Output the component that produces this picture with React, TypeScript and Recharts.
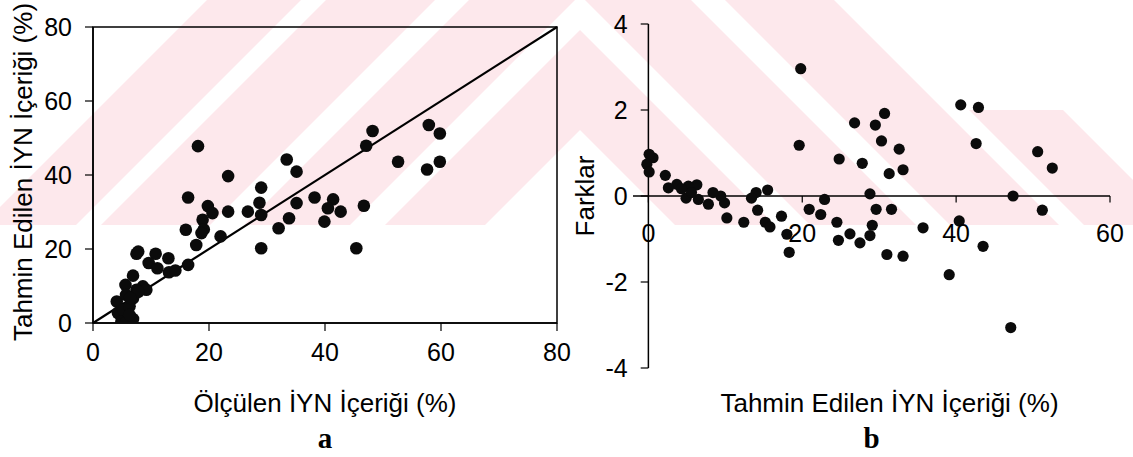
import React from 'react';
import { ScatterChart, Scatter, XAxis, YAxis, ReferenceLine, ReferenceArea, Label } from 'recharts';

// ---------- Chart a: measured vs predicted ----------
const measuredA = [18.1, 48.2, 47.1, 57.9, 59.8, 59.8, 57.6, 52.6, 33.4, 35.1, 23.3, 29.0, 28.7, 29.0, 26.7, 23.3, 16.4, 19.8, 20.6, 18.9, 19.1, 18.7, 17.8, 16.0, 22.0, 35.1, 33.8, 32.0, 38.2, 41.4, 40.5, 42.7, 39.9, 46.7, 29.0, 45.4, 7.5, 7.8, 10.8, 13.0, 9.6, 11.1, 13.1, 14.2, 16.4, 6.9, 5.6, 8.6, 7.5, 4.1, 5.7, 6.9, 4.3, 5.2, 6.3, 4.9, 5.7, 6.9, 6.3, 9.2, 7.8, 6.4];
const predictedA = [47.8, 51.9, 47.9, 53.5, 51.2, 43.6, 41.5, 43.6, 44.2, 40.9, 39.7, 36.6, 32.5, 29.2, 30.1, 30.1, 33.9, 31.6, 29.7, 27.9, 25.3, 24.3, 21.1, 25.2, 23.4, 32.4, 28.3, 25.6, 33.9, 33.4, 31.0, 30.1, 27.4, 31.7, 20.2, 20.2, 18.7, 19.3, 18.7, 17.5, 16.2, 14.8, 13.7, 14.2, 15.7, 12.8, 10.3, 9.9, 9.0, 5.8, 7.6, 6.7, 2.7, 3.6, 4.5, 0.4, 0.2, 1.1, 2.2, 9.0, 8.4, 6.8];
const ticksA = [0, 20, 40, 60, 80];
const lineA = [0, 80];

// ---------- Chart b: predicted vs differences ----------
const predictedB = [19.8, 19.6, 40.6, 42.9, 42.6, 50.6, 52.5, 47.4, 51.2, 47.1, 39.1, 43.5, 40.4, 35.7, 33.1, 31.0, 30.7, 29.5, 26.8, 30.3, 32.6, 33.1, 31.3, 27.8, 24.8, 28.8, 29.6, 31.6, 29.1, 28.8, 27.5, 26.2, 24.7, 24.5, 22.9, 22.4, 20.9, 18.0, 18.3, 17.3, 15.5, 14.0, 13.4, 14.2, 15.2, 15.8, 12.4, 10.2, 9.9, 9.4, 8.4, 7.8, 6.5, 6.3, 5.2, 4.9, 3.7, 2.6, 2.2, 0.6, 0.1, -0.2, 0.1, 5.6, 4.3];
const diffB = [2.96, 1.18, 2.12, 2.06, 1.22, 1.03, 0.65, 0.0, -0.33, -3.06, -1.83, -1.17, -0.58, -0.74, -1.40, -1.36, 1.92, 1.65, 1.70, 1.28, 1.09, 0.61, 0.52, 0.76, 0.86, 0.05, -0.31, -0.31, -0.68, -0.92, -1.09, -0.88, -1.03, -0.61, -0.08, -0.43, -0.31, -0.89, -1.31, -0.47, 0.14, 0.08, -0.05, -0.33, -0.61, -0.72, -0.61, -0.51, -0.16, 0.0, 0.08, -0.19, -0.08, 0.26, 0.23, -0.05, 0.27, 0.19, 0.48, 0.89, 0.97, 0.74, 0.56, 0.08, 0.17];
const xTicksB = [0, 20, 40, 60];
const yTicksB = [4, 2, 0, -2, -4];
const xDomainB = [-2, 60];
const yDomainB = [-4, 4];

const dataA = measuredA.map((x, i) => ({ x, y: predictedA[i] }));
const dataB = predictedB.map((x, i) => ({ x, y: diffB[i] }));

const FONT = '"Liberation Sans", Arial, Helvetica, sans-serif';
const SERIF = '"Liberation Serif", "Times New Roman", serif';
const FS = 25;
const TFS = 26;

// ---------- background watermark (decorative) ----------
const WM_CENTER = 580;
const WM_BOTTOM = 225;
const chevrons = [
  { o: -30, i: -130, rightFrom: 0 },
  { o: 111, i: 5, rightFrom: 0 },
  { o: 254, i: 145, rightFrom: 0 },
  { o: 373, i: 279, rightFrom: 110 },
];

function armPoly(c: number, o: number, i: number, side: number, y0: number, y1: number) {
  const pts: [number, number][] = [];
  const hw = (base: number, y: number) => Math.max(0, base + y);
  pts.push([c + side * hw(o, y0), y0]);
  pts.push([c + side * hw(o, y1), y1]);
  pts.push([c + side * hw(i, y1), y1]);
  const innerApexY = -i;
  if (innerApexY > y0 && innerApexY < y1) pts.push([c, innerApexY]);
  pts.push([c + side * hw(i, y0), y0]);
  const outerApexY = -o;
  if (outerApexY > y0 && outerApexY < y1) pts.splice(1, 0, [c, outerApexY]);
  return pts.map((p) => p.join(',')).join(' ');
}

function Watermark() {
  const polys: string[] = [];
  chevrons.forEach((ch) => {
    polys.push(armPoly(WM_CENTER, ch.o, ch.i, -1, 0, WM_BOTTOM));
    polys.push(armPoly(WM_CENTER, ch.o, ch.i, 1, ch.rightFrom, WM_BOTTOM));
  });
  return (
    <svg width={1133} height={457} style={{ position: 'absolute', left: 0, top: 0 }}>
      {polys.map((p, k) => (
        <polygon key={k} points={p} fill="#fde8ec" />
      ))}
    </svg>
  );
}

const tickStyle = { fill: '#000', fontSize: FS, fontFamily: FONT };

const dotA = (p: any) => <circle cx={p.cx} cy={p.cy} r={6.3} fill="#0b0b0b" />;
const dotB = (p: any) => <circle cx={p.cx} cy={p.cy} r={5.6} fill="#0b0b0b" />;

export default function App() {
  return (
    <div style={{ position: 'absolute', left: 0, top: 0, width: 1133, height: 457, background: '#fff', overflow: 'hidden' }}>
      <Watermark />
      <div style={{ position: 'absolute', left: 0, top: 0 }}>
        <ScatterChart width={600} height={457} margin={{ top: 27, right: 43, bottom: 0, left: 0 }}>
          <XAxis
            type="number"
            dataKey="x"
            domain={[ticksA[0], ticksA[ticksA.length - 1]]}
            ticks={ticksA}
            interval={0}
            allowDataOverflow
            height={134}
            tickSize={8}
            tickMargin={12}
            axisLine={{ stroke: '#000', strokeWidth: 1.5 }}
            tickLine={{ stroke: '#000', strokeWidth: 1.2 }}
            tick={tickStyle}
          >
            <Label value="Ölçülen İYN İçeriği (%)" position="insideBottom" offset={45} fill="#000" fontSize={TFS} fontFamily={FONT} />
            <Label value="a" position="insideBottom" offset={9} fill="#000" fontSize={29} fontWeight="bold" fontFamily={SERIF} />
          </XAxis>
          <YAxis
            type="number"
            dataKey="y"
            domain={[ticksA[0], ticksA[ticksA.length - 1]]}
            ticks={ticksA}
            interval={0}
            allowDataOverflow
            width={93}
            tickSize={8}
            tickMargin={13}
            axisLine={{ stroke: '#000', strokeWidth: 1.5 }}
            tickLine={{ stroke: '#000', strokeWidth: 1.2 }}
            tick={tickStyle}
          >
            <Label
              value="Tahmin Edilen İYN İçeriği (%)"
              angle={-90}
              position="insideLeft"
              offset={23}
              dy={-3}
              fill="#000"
              fontSize={TFS}
              fontFamily={FONT}
              style={{ textAnchor: 'middle' }}
            />
          </YAxis>
          <ReferenceArea x1={ticksA[0]} x2={ticksA[4]} y1={ticksA[0]} y2={ticksA[4]} fill="none" fillOpacity={0} stroke="#000" strokeWidth={1.5} ifOverflow="visible" />
          <ReferenceLine segment={[{ x: lineA[0], y: lineA[0] }, { x: lineA[1], y: lineA[1] }]} stroke="#000" strokeWidth={2.2} />
          <Scatter data={dataA} fill="#0b0b0b" shape={dotA} isAnimationActive={false} />
        </ScatterChart>
      </div>
      <div style={{ position: 'absolute', left: 560, top: 0 }}>
        <ScatterChart width={573} height={457} margin={{ top: 24, right: 23, bottom: 0, left: 0 }}>
          <XAxis
            type="number"
            dataKey="x"
            domain={xDomainB}
            allowDataOverflow
            height={89}
            axisLine={false}
            tickLine={false}
            tick={false}
          >
            <Label value="Tahmin Edilen İYN İçeriği (%)" position="insideBottom" offset={45} dx={18} fill="#000" fontSize={TFS} fontFamily={FONT} />
            <Label value="b" position="insideBottom" offset={9} fill="#000" fontSize={29} fontWeight="bold" fontFamily={SERIF} />
          </XAxis>
          <YAxis
            type="number"
            dataKey="y"
            domain={yDomainB}
            allowDataOverflow
            width={73}
            axisLine={false}
            tickLine={false}
            tick={false}
          >
            <Label
              value="Farklar"
              angle={-90}
              position="insideLeft"
              offset={25}
              fill="#000"
              fontSize={TFS}
              fontFamily={FONT}
              style={{ textAnchor: 'middle' }}
            />
          </YAxis>
          <ReferenceLine y={0} stroke="#000" strokeWidth={1.3} />
          <ReferenceLine x={0} stroke="#000" strokeWidth={1.5} />
          {yTicksB.map((t) => (
            <ReferenceLine
              key={'yt' + t}
              segment={[{ x: -1, y: t }, { x: 0, y: t }]}
              stroke="#000"
              strokeWidth={1.2}
              ifOverflow="visible"
              label={{ value: String(t), position: 'left', offset: 13, fill: '#000', fontSize: FS, fontFamily: FONT }}
            />
          ))}
          {xTicksB.map((t) => (
            <ReferenceLine
              key={'xt' + t}
              segment={[{ x: t, y: 0 }, { x: t, y: -0.15 }]}
              stroke="#000"
              strokeWidth={1.2}
              ifOverflow="visible"
              label={{ value: String(t), position: 'bottom', offset: 22, fill: '#000', fontSize: FS, fontFamily: FONT }}
            />
          ))}
          <Scatter data={dataB} fill="#0b0b0b" shape={dotB} isAnimationActive={false} />
        </ScatterChart>
      </div>
    </div>
  );
}
